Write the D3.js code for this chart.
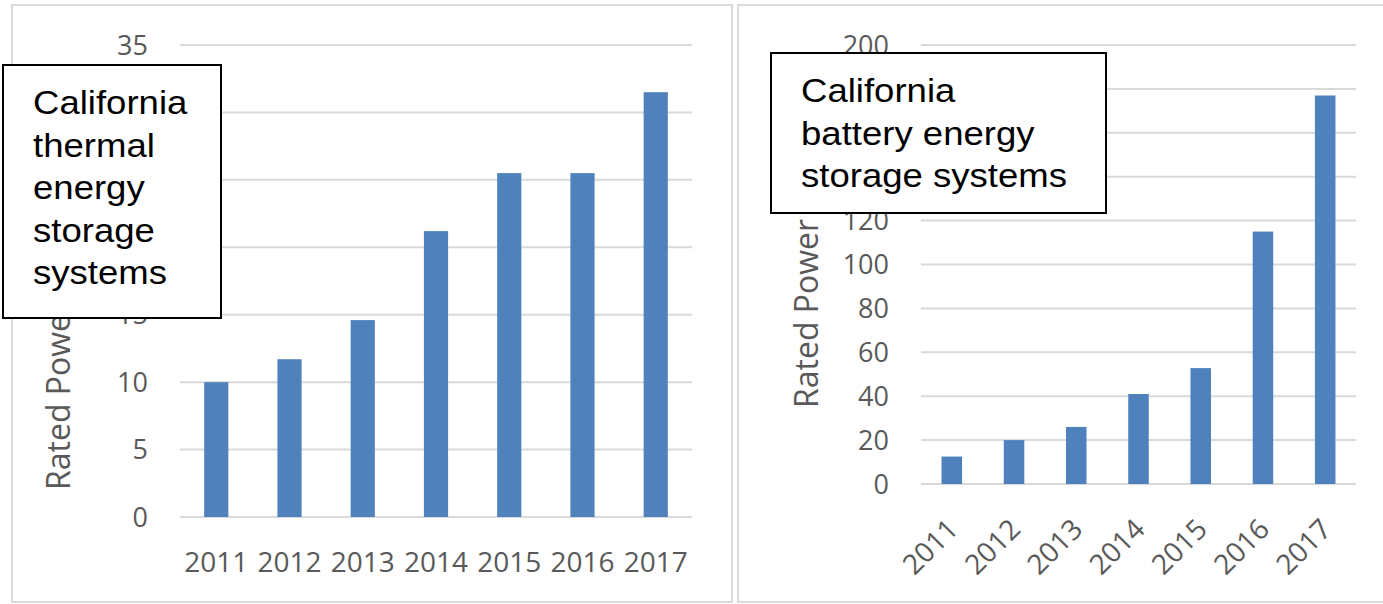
<!DOCTYPE html>
<html>
  <head>
    <script src="https://d3js.org/d3.v7.min.js"></script>
    <style>
      body { margin: 0; background: #fff; }
    </style>
  </head>
  <body>
<script type="text/javascript">
var years = ['2011', '2012', '2013', '2014', '2015', '2016', '2017'];
var thermalValues = [10, 11.7, 14.6, 21.2, 25.5, 25.5, 31.5];
var batteryValues = [12.5, 20, 26, 41, 52.8, 115, 177];
var thermalTicks = [0, 5, 10, 15, 20, 25, 30, 35];
var batteryTicks = [0, 20, 40, 60, 80, 100, 120, 140, 160, 180, 200];
var thermalTitle = ['California', 'thermal', 'energy', 'storage', 'systems'];
var batteryTitle = ['California', 'battery energy', 'storage systems'];
var yTitle = 'Rated Power (MW)';

var width = 1383, height = 604;
var svg = d3.select('body').append('svg')
      .attr('width', width)
      .attr('height', height);

var tickFont = '"Open Sans", sans-serif';
var grey = '#595959';

function drawPanel(opt) {
  var g = svg.append('g');

  // chart frame
  g.append('rect')
      .attr('x', opt.frame[0]).attr('y', opt.frame[1])
      .attr('width', opt.frame[2]).attr('height', opt.frame[3])
      .attr('fill', 'none')
      .attr('stroke', '#d9d9d9')
      .attr('stroke-width', 2);

  var x = d3.scaleBand()
      .domain(years)
      .range([opt.x0, opt.x1])
      .paddingInner(0.67)
      .paddingOuter(0.33);

  var y = d3.scaleLinear()
      .domain([0, d3.max(opt.ticks)])
      .range([opt.yBottom, opt.yTop]);

  // gridlines
  g.append('g')
      .selectAll('line')
      .data(opt.ticks)
      .enter()
      .append('line')
      .attr('x1', opt.x0).attr('x2', opt.x1)
      .attr('y1', function(d) { return y(d); })
      .attr('y2', function(d) { return y(d); })
      .attr('stroke', '#d9d9d9')
      .attr('stroke-width', 2);

  // y tick labels
  g.append('g')
      .selectAll('text')
      .data(opt.ticks)
      .enter()
      .append('text')
      .attr('x', opt.x0 - 32)
      .attr('y', function(d) { return y(d); })
      .attr('dy', '0.36em')
      .attr('text-anchor', 'end')
      .attr('font-family', tickFont)
      .attr('font-size', 27)
      .attr('fill', grey)
      .text(function(d) { return d; });

  // axis title (partly hidden by the text box)
  g.append('text')
      .attr('transform', 'translate(' + opt.titleX + ',' + opt.titleY + ') rotate(-90)')
      .attr('font-family', tickFont)
      .attr('font-size', 32)
      .attr('fill', grey)
      .text(yTitle);

  // bars
  g.append('g')
      .selectAll('rect')
      .data(opt.values)
      .enter()
      .append('rect')
      .attr('x', function(d, i) { return x(years[i]); })
      .attr('width', x.bandwidth())
      .attr('y', function(d) { return y(d); })
      .attr('height', function(d) { return y(0) - y(d); })
      .attr('fill', '#4f81bd');

  // x labels
  var xl = g.append('g')
      .selectAll('text')
      .data(years)
      .enter()
      .append('text')
      .attr('font-family', tickFont)
      .attr('font-size', 28)
      .attr('fill', grey)
      .text(function(d) { return d; });
  if (opt.rotate) {
    xl.attr('text-anchor', 'end')
      .attr('transform', function(d) {
        return 'translate(' + (x(d) + x.bandwidth() / 2 + 8) + ',' + (opt.yBottom + 47) + ') rotate(-45)';
      });
  } else {
    xl.attr('text-anchor', 'middle')
      .attr('x', function(d) { return x(d) + x.bandwidth() / 2; })
      .attr('y', opt.yBottom + 45)
      .attr('dy', '0.36em');
  }

  // text box
  g.append('rect')
      .attr('x', opt.box[0]).attr('y', opt.box[1])
      .attr('width', opt.box[2]).attr('height', opt.box[3])
      .attr('fill', '#fff')
      .attr('stroke', '#000')
      .attr('stroke-width', 2);
  g.append('g')
      .selectAll('text')
      .data(opt.boxText)
      .enter()
      .append('text')
      .attr('transform', function(d, i) {
        return 'translate(' + (opt.box[0] + 30) + ',' + (opt.box[1] + 37 + i * 42.5) + ') scale(1.075,1)';
      })
      .attr('dy', '0.36em')
      .attr('font-family', '"Liberation Sans", Arial, sans-serif')
      .attr('font-size', 34)
      .attr('fill', '#000')
      .text(function(d) { return d; });
}

drawPanel({
  frame: [12, 5, 720, 597],
  x0: 180, x1: 692, yTop: 45, yBottom: 517,
  ticks: thermalTicks, values: thermalValues,
  titleX: 70, titleY: 490,
  box: [3, 65, 218, 253], boxText: thermalTitle,
  rotate: false
});

drawPanel({
  frame: [738, 5, 700, 597],
  x0: 921, x1: 1356, yTop: 45, yBottom: 484,
  ticks: batteryTicks, values: batteryValues,
  titleX: 818, titleY: 408,
  box: [771, 53, 335, 160], boxText: batteryTitle,
  rotate: true
});
</script>
  </body>
</html>
